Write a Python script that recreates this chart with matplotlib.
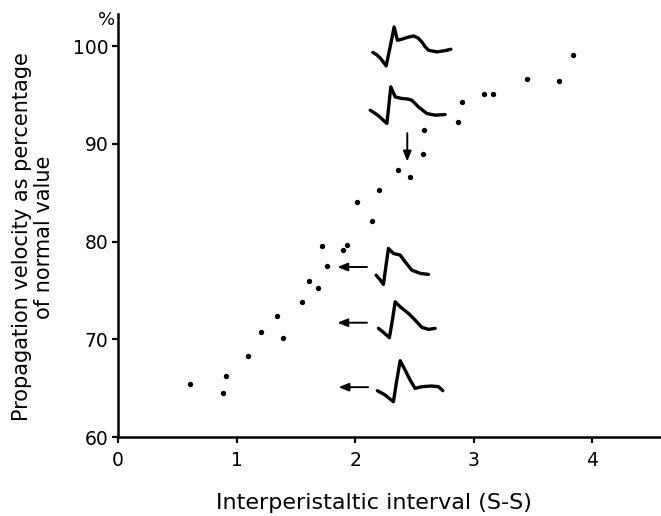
import matplotlib
matplotlib.use("Agg")
import matplotlib.pyplot as plt

# Data points: interperistaltic interval (S-S) vs propagation velocity (%)
interval = [0.61, 0.886, 0.91, 1.10, 1.21, 1.34, 1.39, 1.555, 1.61, 1.69, 1.72,
            1.76, 1.90, 1.93, 2.02, 2.14, 2.20, 2.36, 2.46, 2.57, 2.58, 2.87,
            2.90, 3.09, 3.16, 3.45, 3.72, 3.84]
velocity = [65.4, 64.5, 66.2, 68.3, 70.7, 72.4, 70.1, 73.8, 76.0, 75.3, 79.6,
            77.5, 79.1, 79.7, 84.1, 82.1, 85.3, 87.3, 86.6, 89.0, 91.4, 92.2,
            94.3, 95.1, 95.1, 96.6, 96.45, 99.1]

x_ticks = [0, 1, 2, 3, 4]
y_ticks = [60, 70, 80, 90, 100]

# Inset waveform sketches (data coordinates)
wave1_x = [2.149, 2.180, 2.215, 2.262, 2.300, 2.329, 2.357, 2.394, 2.440, 2.492, 2.530, 2.563, 2.590, 2.619, 2.689, 2.760, 2.808]
wave1_y = [99.36, 99.15, 98.75, 97.99, 100.20, 101.97, 100.61, 100.72, 100.90, 101.05, 100.85, 100.44, 99.95, 99.59, 99.42, 99.55, 99.69]
wave2_x = [2.127, 2.160, 2.200, 2.268, 2.285, 2.301, 2.338, 2.394, 2.440, 2.478, 2.534, 2.605, 2.675, 2.759]
wave2_y = [93.45, 93.20, 92.85, 92.09, 94.00, 95.84, 94.81, 94.65, 94.60, 94.48, 93.79, 93.11, 92.94, 93.01]
wave3_x = [2.177, 2.210, 2.239, 2.260, 2.281, 2.323, 2.380, 2.422, 2.478, 2.549, 2.619]
wave3_y = [76.57, 76.10, 75.62, 77.50, 79.30, 78.79, 78.62, 77.93, 77.08, 76.75, 76.64]
wave4_x = [2.197, 2.240, 2.289, 2.315, 2.338, 2.380, 2.450, 2.506, 2.563, 2.619, 2.675]
wave4_y = [71.12, 70.70, 70.16, 72.00, 73.84, 73.33, 72.65, 71.97, 71.22, 71.02, 71.12]
wave5_x = [2.188, 2.253, 2.323, 2.350, 2.380, 2.422, 2.464, 2.506, 2.563, 2.647, 2.703, 2.740]
wave5_y = [64.74, 64.30, 63.61, 65.70, 67.81, 66.85, 65.83, 64.98, 65.15, 65.22, 65.15, 64.74]
waves = [(wave1_x, wave1_y), (wave2_x, wave2_y), (wave3_x, wave3_y),
         (wave4_x, wave4_y), (wave5_x, wave5_y)]

# Arrows: (start, end)
arrows = [((2.10, 77.4), (1.85, 77.4)),
          ((2.10, 71.7), (1.85, 71.7)),
          ((2.11, 65.1), (1.86, 65.1)),
          ((2.44, 91.1), (2.44, 88.2))]

plt.rcParams['font.family'] = ['DejaVu Sans']

fig = plt.figure(figsize=(6.61, 5.16), dpi=100)
ax = fig.add_axes([0.1785, 0.1531, 0.8215, 0.8198])

ax.scatter(interval, velocity, s=15, color='black', zorder=3, linewidths=0)

for wx, wy in waves:
    ax.plot(wx, wy, color='black', lw=2.4, solid_joinstyle='round',
            solid_capstyle='round')

for (x0, y0), (x1, y1) in arrows:
    ax.annotate('', xy=(x1, y1), xytext=(x0, y0),
                arrowprops=dict(arrowstyle='-|>,head_length=0.5,head_width=0.2',
                                color='black', lw=1.4,
                                mutation_scale=12, shrinkA=0, shrinkB=0))

ax.set_xlim(0, 4.58)
ax.set_ylim(60, 103.3)
ax.set_xticks(x_ticks)
ax.set_yticks(y_ticks)
ax.tick_params(axis='both', direction='out', length=4, width=1.6,
               labelsize=13.5)
ax.tick_params(axis='x', pad=6)
ax.tick_params(axis='y', pad=3)

for s in ['top', 'right']:
    ax.spines[s].set_visible(False)
for s in ['left', 'bottom']:
    ax.spines[s].set_linewidth(1.8)

ax.set_xlabel('Interperistaltic interval (S-S)', fontsize=16)
ax.xaxis.set_label_coords(0.472, -0.132)
ax.set_ylabel('Propagation velocity as percentage\nof normal value',
              fontsize=15, linespacing=1.1)
ax.yaxis.set_label_coords(-0.118, 0.473)
ax.text(-0.1, 102.7, '%', fontsize=13, ha='center', va='center')

fig.savefig('out.png', dpi=100)
